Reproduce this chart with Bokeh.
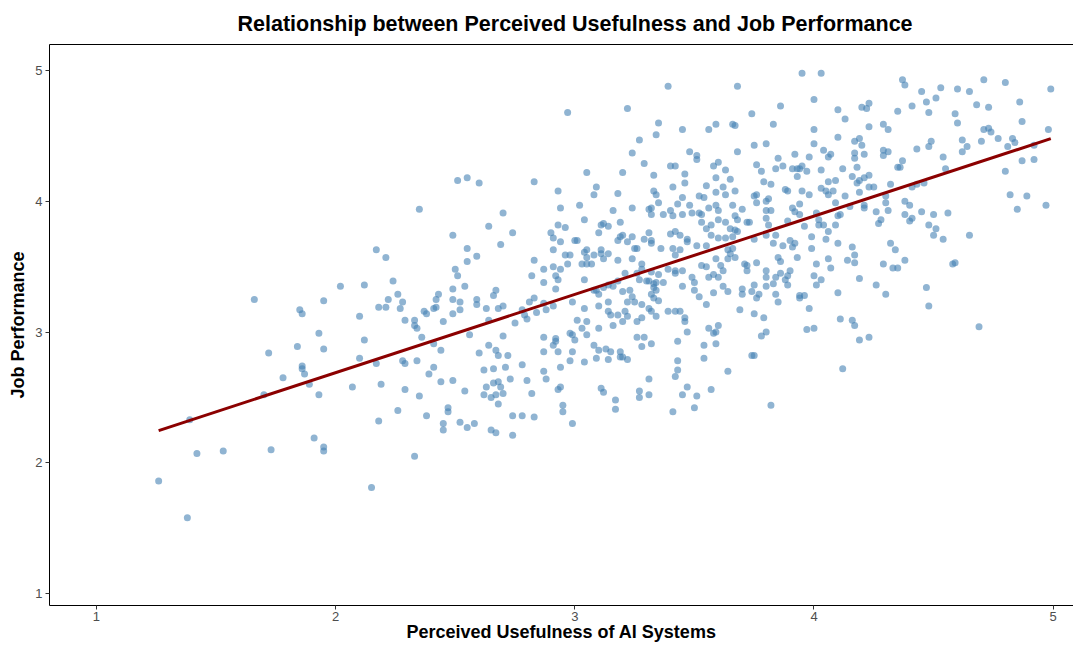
import numpy as np
from bokeh.plotting import figure
from bokeh.models import LinearAxis, FixedTicker, Range1d
from bokeh.embed import file_html
from bokeh.resources import INLINE

pu_a = [2.17,2.21,2.02,2.12,1.66,1.85,1.86,1.95,2.18,2.21,2.22,2.10,1.93,2.12,1.84,1.95,1.72,2.10,1.86,1.86,
        1.87,1.78,2.17,1.89,2.19,2.07,1.70,1.93,1.39,2.18,1.91,1.95,1.95,1.73,1.53,1.42,1.26,2.15,1.38]
jp_a = [3.63,3.57,3.35,3.36,3.25,3.17,3.14,3.24,3.19,3.19,3.25,3.12,2.99,2.94,2.89,2.87,2.84,2.80,2.74,2.72,
        2.68,2.65,2.76,2.60,2.60,2.58,2.52,2.52,2.33,2.32,2.19,2.12,2.09,2.10,2.09,2.07,1.86,1.81,1.58]

pu_b = [2.97,2.51,2.55,2.60,2.83,2.93,2.94,3.02,2.35,2.70,2.64,2.49,2.74,2.69,2.55,2.59,2.90,2.91,2.93,2.96,
        2.94,2.91,2.96,2.98,3.00,3.01]
jp_b = [4.68,4.16,4.18,4.14,4.15,4.08,3.95,3.97,3.94,3.91,3.81,3.74,3.76,3.67,3.64,3.58,3.76,3.72,3.82,3.80,
        3.69,3.63,3.59,3.59,3.70,3.70]

pu_c = [2.55,2.83,2.50,2.51,2.24,2.26,2.28,2.27,2.29,2.33,2.33,2.34,2.36,2.41,2.44,2.37,2.38,2.43,2.42,2.42,
        2.41,2.45,2.49,2.49,2.49,2.52,2.52,2.54,2.59,2.59,2.56,2.63,2.64,2.66,2.67,2.68,2.70,2.70,2.64,2.67,
        2.68,2.60,2.72,2.75,2.78,2.79,2.80,2.81,2.83,2.84,2.82,2.87,2.87,2.91,2.92,2.93,2.94,2.97,2.92,2.87,
        2.88,2.91,2.99,3.01,2.87,2.92,2.92,2.91,2.98,2.99,3.00,2.87,2.93,2.99]
jp_c = [3.54,3.55,3.48,3.43,3.39,3.29,3.23,3.18,3.09,3.09,3.05,3.03,2.96,2.91,2.86,3.16,3.14,3.29,3.25,3.19,
        3.18,3.08,3.14,3.25,3.33,3.23,3.17,3.35,3.25,3.21,2.98,3.18,3.09,3.28,3.32,3.18,3.20,2.97,2.90,2.86,
        2.82,2.84,2.82,3.07,3.17,3.13,3.10,3.23,3.26,3.15,3.43,3.48,3.38,3.50,3.43,3.40,3.48,3.52,3.33,3.22,
        3.17,3.20,3.23,3.09,2.96,2.95,2.93,2.90,2.99,2.98,2.94,2.85,2.85,2.85]

pu_d = [2.28,2.29,2.34,2.41,2.39,2.44,2.49,2.29,2.35,2.54,2.26,2.38,2.47,2.47,2.45,2.45,2.52,2.55,2.58,2.62,
        2.66,2.71,2.78,2.73,2.63,2.66,2.68,2.69,2.62,2.65,2.67,2.70,2.68,2.65,2.67,2.74,2.74,2.78,2.83,2.80,
        2.82,2.87,2.88,2.94,2.93,2.94,2.95,2.95,2.99,2.98,2.33]
jp_d = [2.78,2.76,2.78,2.73,2.68,2.62,2.63,2.56,2.51,2.55,2.40,2.36,2.42,2.39,2.30,2.25,2.31,2.27,2.30,2.71,
        2.72,2.73,2.75,2.64,2.58,2.61,2.62,2.58,2.52,2.50,2.52,2.53,2.45,2.25,2.23,2.21,2.36,2.36,2.35,2.63,
        2.53,2.70,2.64,2.73,2.56,2.58,2.44,2.39,2.30,2.78,2.05]

pu_e = [3.39,3.68,3.22,3.35,3.34,3.45,3.56,3.59,3.66,3.67,3.27,3.24,3.29,3.48,3.51,3.51,3.68,3.40,3.42,3.60,
        3.58,3.63,3.05,3.20,3.33,3.46,3.46,3.59,3.65,3.09,3.08,3.18,3.33,3.34,3.41,3.55,3.62,3.59,3.67,3.52,
        3.54,3.63,3.45]
jp_e = [4.88,4.88,4.71,4.60,4.51,4.55,4.55,4.59,4.59,4.58,4.47,4.37,4.29,4.38,4.35,4.32,4.38,4.27,4.27,4.30,
        4.27,4.24,4.22,4.22,4.20,4.21,4.14,4.18,4.17,4.11,4.05,4.06,4.08,4.05,4.11,4.12,4.11,4.07,4.08,4.04,
        4.03,4.05,4.03]

pu_f = [3.16,3.24,3.31,3.32,3.32,3.35,3.37,3.40,3.43,3.41,3.45,3.48,3.49,3.52,3.56,3.59,3.60,3.66,3.67,3.68,
        3.04,3.11,3.12,3.10,3.19,3.14,3.20,3.19,3.24,3.18,3.22,3.26,3.25,3.29,3.31,3.32,3.32,3.36,3.41,3.40,
        3.42,3.44,3.47,3.47,3.51,3.55,3.53,3.53,3.55,3.57,3.57,3.60,3.63,3.63,3.65,3.66,3.67,3.68,3.60,3.05,
        3.04,3.05,3.08,3.07,3.05,3.03,3.11,3.11,3.12,3.14,3.18,3.24,3.28,3.28,3.26,3.30,3.27,3.21,3.18,3.16,
        3.14,3.12,3.09,3.10,3.08,3.04,3.32,3.35,3.31,3.33,3.34,3.33,3.34,3.37,3.39,3.42,3.42,3.42,3.44,3.45,
        3.45,3.49,3.50,3.53,3.55,3.56,3.58,3.59,3.61,3.62,3.62,3.60,3.64,3.64,3.66,3.65,3.64,3.67,3.50,3.52,
        3.55,3.58,3.20,3.23,3.24,3.22,3.25,3.28,3.31,3.32,3.35,3.33,3.32,3.39,3.42,3.44,3.04,3.10,3.14,3.14,
        3.15,3.18,3.21,3.22,3.28,3.34,3.46]
jp_f = [3.93,3.95,3.94,3.95,3.90,3.99,3.90,3.93,3.98,3.89,3.90,3.97,3.91,3.91,3.95,3.97,3.93,3.97,3.89,3.86,
        3.86,3.82,3.83,3.76,3.84,3.81,3.74,3.73,3.73,3.70,3.69,3.64,3.64,3.71,3.76,3.70,3.68,3.64,3.64,3.75,
        3.77,3.74,3.71,3.69,3.66,3.66,3.84,3.90,3.79,3.82,3.74,3.72,3.72,3.84,3.79,3.73,3.78,3.77,3.86,3.63,
        3.61,3.57,3.59,3.52,3.52,3.52,3.63,3.60,3.56,3.60,3.55,3.56,3.52,3.48,3.45,3.39,3.40,3.45,3.39,3.35,
        3.36,3.34,3.32,3.29,3.32,3.40,3.46,3.44,3.39,3.37,3.38,3.34,3.32,3.38,3.48,3.47,3.45,3.59,3.63,3.47,
        3.35,3.42,3.38,3.51,3.50,3.42,3.44,3.56,3.51,3.47,3.35,3.42,3.56,3.63,3.64,3.60,3.31,3.57,3.32,3.27,
        3.21,3.30,3.31,3.32,3.27,3.23,3.23,3.21,3.18,3.16,3.24,3.26,3.29,3.16,3.16,3.16,3.18,3.20,3.23,3.16,
        3.13,3.13,3.16,3.12,3.11,3.12,3.11]

pu_g = [3.05,3.03,3.10,3.16,3.20,3.26,3.05,3.08,3.10,3.13,3.15,3.19,3.19,3.20,3.22,3.09,3.14,3.04,3.26,3.29,
        3.28,3.32,3.31,3.27,3.27,3.31,3.11,3.12,3.17,3.17,3.46,3.47,3.43,3.43,3.43,3.42,3.47,3.45,3.51,3.50,
        3.41,3.57,3.64,3.54,3.54,3.59,3.56,3.60,3.58,3.59]
jp_g = [3.08,3.03,3.03,3.05,3.08,3.08,2.98,2.90,2.86,2.87,2.85,2.85,2.81,2.81,2.79,2.80,2.79,2.77,2.96,2.96,
        2.89,2.91,2.64,2.55,2.50,2.52,2.57,2.54,2.48,2.41,3.08,3.00,2.93,2.78,2.71,2.66,2.58,2.52,2.51,2.42,
        2.39,2.56,2.70,2.80,2.90,2.91,3.03,3.05,2.99,3.00]

pu_h = [3.95,4.03,4.00,3.86,3.74,4.10,4.13,4.20,4.22,4.23,4.35,3.83,4.00,4.23,4.29,4.31,3.75,3.80,4.00,4.10,
        4.17,4.19,4.20,3.92,3.85,3.98,4.04,4.06,4.07,4.17,4.17,4.21,4.29,4.29,4.31,3.76,3.78,3.84,3.87,3.91,
        3.93,3.94,3.95,3.97,3.93,4.03,4.12,4.18,4.23,4.16,4.19,4.21,4.18,4.35,3.79,3.82,3.88,3.89,3.95,3.98,
        4.03,4.05,4.06,4.09,4.06,4.08,4.13,4.19,4.23,4.25,4.30,4.32,3.76,3.75,3.81]
jp_h = [4.98,4.98,4.78,4.73,4.67,4.70,4.63,4.72,4.71,4.75,4.69,4.59,4.55,4.57,4.59,4.55,4.43,4.44,4.44,4.49,
        4.46,4.48,4.43,4.36,4.33,4.34,4.39,4.34,4.36,4.37,4.33,4.36,4.39,4.35,4.38,4.28,4.23,4.25,4.27,4.25,
        4.25,4.25,4.27,4.23,4.19,4.24,4.25,4.26,4.20,4.19,4.16,4.18,4.14,4.26,4.15,4.13,4.09,4.08,4.08,4.05,
        4.10,4.08,4.15,4.16,4.05,4.08,4.04,4.07,4.11,4.11,4.04,4.13,4.05,4.04,4.02]

pu_i = [3.76,3.80,3.80,3.82,3.91,3.92,3.94,3.94,4.01,4.02,4.02,4.04,4.09,4.10,4.11,4.15,4.21,4.21,4.30,4.31,
        4.26,4.28,4.27,3.70,3.72,3.73,3.80,3.81,3.89,3.96,3.99,4.06,4.09,4.05,3.80,3.84,3.75,3.83,3.87,3.90,
        3.92,3.91,3.99,4.10,4.16,4.17,4.17,4.14,4.06,4.07,4.01,3.93,3.85,3.86,3.76,3.71,3.72,3.72,3.80,3.80,
        3.84,3.86,3.88,3.90,3.89,3.83,3.80,3.89,4.00,4.03,4.01,3.75,3.74,3.70,3.70,3.77,3.76,3.84,3.85,3.94,
        3.94,3.96,3.98,4.10,4.19,4.26,4.30,4.29,4.32,4.34,4.33,4.35,3.69,3.75,3.79,4.11,4.16]
jp_i = [3.99,4.00,3.93,3.93,3.95,3.92,3.98,3.90,3.91,3.86,3.82,3.82,3.99,3.89,3.90,3.96,3.97,3.95,3.99,3.93,
        3.92,3.86,3.83,3.94,3.84,3.84,3.87,3.82,3.85,3.81,3.73,3.77,3.82,3.71,3.74,3.74,3.71,3.68,3.66,3.70,
        3.68,3.65,3.64,3.68,3.65,3.59,3.53,3.55,3.56,3.49,3.52,3.57,3.57,3.54,3.53,3.52,3.51,3.47,3.47,3.42,
        3.42,3.45,3.40,3.47,3.43,3.37,3.35,3.36,3.43,3.40,3.36,3.36,3.31,3.33,3.29,3.29,3.26,3.29,3.23,3.28,
        3.26,3.28,3.18,3.30,3.41,3.36,3.29,3.52,3.68,3.63,3.49,3.49,3.17,3.14,3.11,3.10,3.09]

pu_j = [3.80,3.78,3.97,4.00,4.17,4.19,4.23,3.74,3.75,4.12,3.82]
jp_j = [3.00,2.97,3.02,3.03,3.05,2.94,2.96,2.82,2.82,2.72,2.44]

pu_k = [4.37,4.38,4.45,4.53,4.60,4.65,4.71,4.80,4.99,4.47,4.51,4.41,4.48,4.68,4.73,4.86,4.59,4.60,4.87,4.71,
        4.73,4.74,4.77,4.83,4.84,4.81,4.92,4.98,4.49,4.48,4.43,4.62,4.64,4.62,4.70,4.54,4.55,4.37,4.36,4.87,
        4.92,4.80,4.46,4.43,4.41,4.82,4.89,4.85,4.97,4.38,4.40,4.45,4.50,4.56,4.38,4.41,4.40,4.48,4.51]
jp_k = [4.93,4.89,4.84,4.87,4.86,4.84,4.93,4.91,4.86,4.76,4.79,4.73,4.68,4.74,4.72,4.76,4.67,4.60,4.61,4.55,
        4.56,4.53,4.48,4.48,4.45,4.42,4.43,4.55,4.46,4.42,4.40,4.47,4.42,4.38,4.46,4.34,4.25,4.31,4.26,4.31,
        4.32,4.23,4.14,4.13,4.11,4.05,4.04,3.94,3.97,4.00,3.97,3.92,3.90,3.91,3.90,3.87,3.85,3.82,3.79]

pu_l = [4.50,4.54,4.65,4.38,4.58,4.59,4.47,4.48,4.69]
jp_l = [3.74,3.71,3.74,3.55,3.52,3.53,3.34,3.20,3.04]

x_ticks = [1, 2, 3, 4, 5]
y_ticks = [1, 2, 3, 4, 5]

pu = pu_a + pu_b + pu_c + pu_d + pu_e + pu_f + pu_g + pu_h + pu_i + pu_j + pu_k + pu_l
jp = jp_a + jp_b + jp_c + jp_d + jp_e + jp_f + jp_g + jp_h + jp_i + jp_j + jp_k + jp_l

# least-squares line, as geom_smooth(method = "lm")
slope, intercept = np.polyfit(pu, jp, 1)
fit_x = [min(pu), max(pu)]
fit_y = [intercept + slope * v for v in fit_x]

FONT = "Liberation Sans"

p = figure(width=1073, height=644, output_backend="svg", toolbar_location=None,
           x_range=Range1d(0.8036, 5.085), y_range=Range1d(0.908, 5.2),
           min_border_left=49, min_border_top=44, min_border_right=0, min_border_bottom=0,
           background_fill_color="white", border_fill_color="white")
p.outline_line_color = None
p.grid.visible = False

p.title.text = "Relationship between Perceived Usefulness and Job Performance"
p.title.align = "left"
p.title.offset = 188
p.title.text_font = FONT
p.title.text_font_size = "21.5px"
p.title.text_font_style = "bold"
p.title.text_color = "black"
p.title.standoff = 17

p.scatter(pu, jp, size=7, fill_color="steelblue", fill_alpha=0.6, line_color=None)
p.line(fit_x, fit_y, line_color="#8B0000", line_width=3)

for ax, ticks in ((p.xaxis[0], x_ticks), (p.yaxis[0], y_ticks)):
    ax.ticker = FixedTicker(ticks=ticks)
    ax.axis_line_color = "black"
    ax.axis_line_width = 1
    ax.major_tick_line_color = "#333333"
    ax.major_tick_out = 4
    ax.major_tick_in = 0
    ax.minor_tick_line_color = None
    ax.major_label_text_font = FONT
    ax.major_label_text_font_size = "13px"
    ax.major_label_text_color = "#4D4D4D"
    ax.axis_label_text_font = FONT
    ax.axis_label_text_font_style = "bold"
    ax.axis_label_text_color = "black"

p.yaxis[0].axis_label = "Job Performance"
p.yaxis[0].axis_label_text_font_size = "18px"
p.yaxis[0].major_label_standoff = 3
p.yaxis[0].axis_label_standoff = 4

p.xaxis[0].axis_label = "Perceived Usefulness of AI Systems"
p.xaxis[0].axis_label_text_font_size = "18px"
p.xaxis[0].major_label_standoff = 2
p.xaxis[0].axis_label_standoff = -2

top = LinearAxis(ticker=FixedTicker(ticks=[]), axis_line_color="black",
                 major_label_text_font_size="0px", major_tick_line_color=None,
                 minor_tick_line_color=None)
p.add_layout(top, "above")

open("out.html", "w").write(file_html(p, INLINE))
